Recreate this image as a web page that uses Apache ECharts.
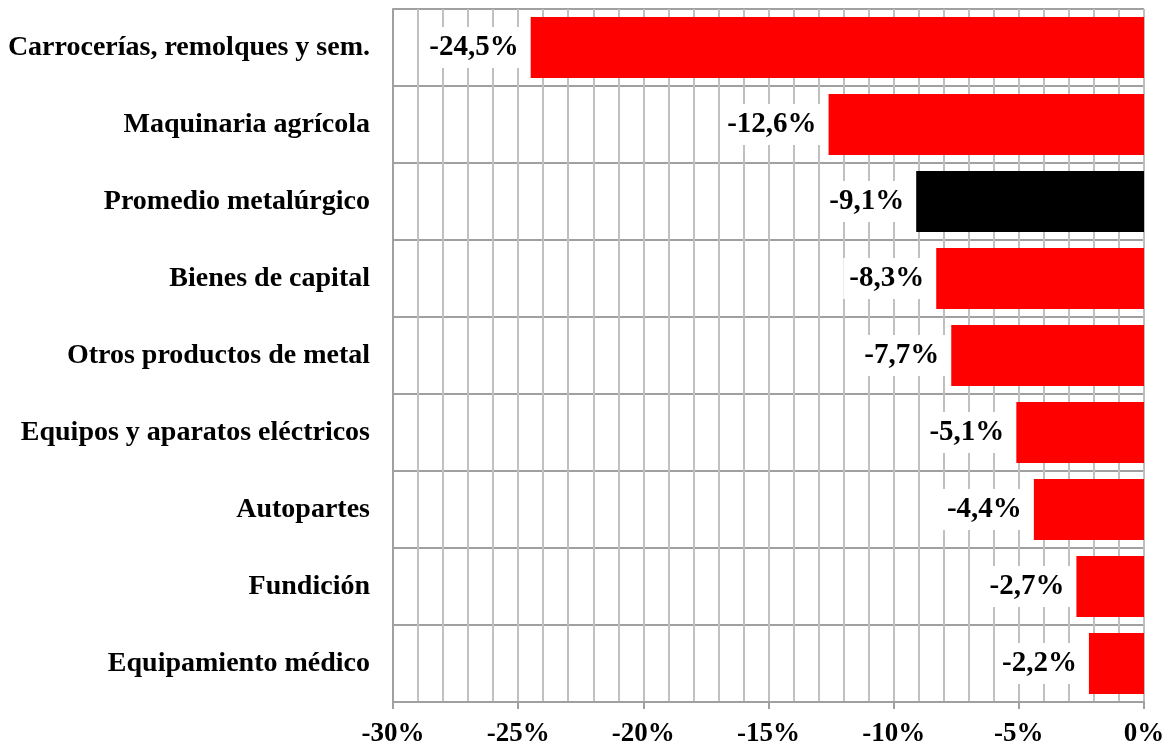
<!DOCTYPE html>
<html>
<head>
<meta charset="utf-8">
<script src="https://cdn.jsdelivr.net/npm/echarts@6/dist/echarts.min.js"></script>
<style>
  html, body { margin: 0; padding: 0; background: #fff; }
  #main { width: 1167px; height: 745px; }
</style>
</head>
<body>
<div id="main"></div>
<script>
// rubros y variación (%)
var categories = [
  "Carrocerías, remolques y sem.",
  "Maquinaria agrícola",
  "Promedio metalúrgico",
  "Bienes de capital",
  "Otros productos de metal",
  "Equipos y aparatos eléctricos",
  "Autopartes",
  "Fundición",
  "Equipamiento médico"
];
var values = [-24.5, -12.6, -9.1, -8.3, -7.7, -5.1, -4.4, -2.7, -2.2];
var highlight = "Promedio metalúrgico";

var font = "Liberation Serif";
var chart = echarts.init(document.getElementById("main"));

var opt = {
  animation: false,
  grid: { left: 393, right: 23, top: 9, bottom: 43, outerBoundsMode: "none" },
  xAxis: {
    type: "value",
    min: -30,
    max: 0,
    interval: 5,
    axisLine: { show: true, lineStyle: { color: "#a0a0a0", width: 2 } },
    axisTick: { show: true, length: 7, lineStyle: { color: "#a0a0a0", width: 2 } },
    axisLabel: {
      margin: 19,
      color: "#000",
      fontFamily: font,
      fontWeight: "bold",
      fontSize: 27,
      formatter: function (v) { return v + "%"; }
    },
    splitLine: { show: true, lineStyle: { color: "#c0c0c0", width: 2 } },
    minorTick: { show: false, splitNumber: 5 },
    minorSplitLine: { show: true, lineStyle: { color: "#c0c0c0", width: 2 } }
  },
  yAxis: {
    type: "category",
    inverse: true,
    data: categories,
    axisLine: { show: true, onZero: false, lineStyle: { color: "#a0a0a0", width: 2 } },
    axisTick: { show: false },
    axisLabel: {
      margin: 23,
      color: "#000",
      fontFamily: font,
      fontWeight: "bold",
      fontSize: 28
    },
    splitLine: { show: true, lineStyle: { color: "#a0a0a0", width: 2 } }
  },
  series: [
    {
      type: "bar",
      barWidth: "79%",
      data: values.map(function (v, i) {
        return {
          value: v,
          itemStyle: { color: categories[i] === highlight ? "#000" : "#ff0000" }
        };
      }),
      label: {
        show: true,
        position: "left",
        distance: 6,
        color: "#000",
        fontFamily: font,
        fontWeight: "bold",
        fontSize: 29,
        backgroundColor: "#fff",
        padding: [6, 6],
        formatter: function (p) {
          return p.value.toFixed(1).replace(".", ",") + "%";
        }
      }
    }
  ]
};
chart.setOption(opt);
</script>
</body>
</html>
